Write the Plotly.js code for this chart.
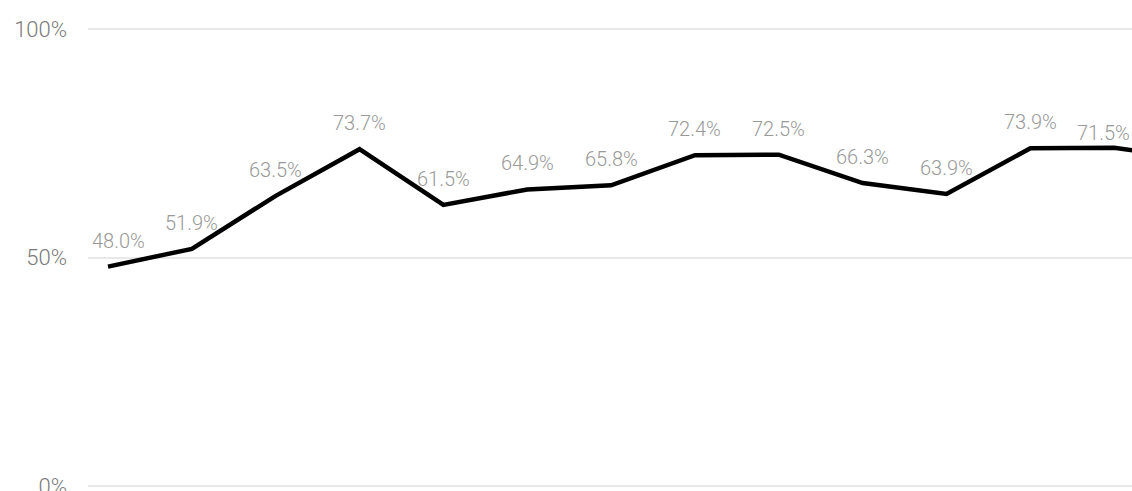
<!DOCTYPE html>
<html>
<head>
<meta charset="utf-8">
<script src="https://cdn.plot.ly/plotly-3.0.1.min.js"></script>
<style>
  html, body { margin: 0; padding: 0; background: #ffffff; }
  #chart { width: 1132px; height: 491px; }
</style>
</head>
<body>
<div id="chart"></div>
<script>
// Data (x positions are category indices; the 14th point lies just beyond the visible area)
const categories = [1, 2, 3, 4, 5, 6, 7, 8, 9, 10, 11, 12, 13, 14];
const values = [48.0, 51.9, 63.5, 73.7, 61.5, 64.9, 65.8, 72.4, 72.5, 66.3, 63.9, 73.9, 74.0, 71.5];
const labels = ['48.0%', '51.9%', '63.5%', '73.7%', '61.5%', '64.9%', '65.8%', '72.4%', '72.5%', '66.3%', '63.9%', '73.9%', '', '71.5%'];
const yTickVals = [0, 0.5, 1];
const yTickText = ['0%', '50%', '100%'];

const xIdx = categories.map((c, i) => i);
const yFrac = values.map(v => v / 100);

const trace = {
  type: 'scatter',
  mode: 'lines',
  x: xIdx,
  y: yFrac,
  line: { color: '#000000', width: 4.5 },
  hoverinfo: 'skip',
  showlegend: false
};

const labelFont = { family: 'Roboto, sans-serif', size: 20, weight: 300, color: '#999999' };
const lastVisible = 12;
const annotations = [];
labels.forEach((t, i) => {
  if (!t) return;
  let xs = 0;
  let xi = i;
  if (i === 0) xs = 10;
  if (i > lastVisible) { xi = lastVisible; xs = -11; }
  annotations.push({
    x: xi, y: yFrac[i], xref: 'x', yref: 'y',
    text: t, showarrow: false,
    xanchor: 'center', yanchor: 'bottom',
    xshift: xs, yshift: 12,
    font: labelFont
  });
});

const layout = {
  width: 1132, height: 491,
  margin: { l: 88, r: 0, t: 27, b: 0, pad: 0 },
  paper_bgcolor: '#ffffff', plot_bgcolor: '#ffffff',
  showlegend: false,
  xaxis: {
    range: [-0.2385, 12.212],
    showgrid: false, zeroline: false, showline: false,
    showticklabels: false, ticks: ''
  },
  yaxis: {
    range: [-0.0109, 1.0044],
    tickvals: yTickVals, ticktext: yTickText,
    showgrid: true, gridcolor: '#e8e8e8', gridwidth: 2,
    zeroline: false, showline: false, ticks: '',
    ticklabelstandoff: 20,
    ticklabeloverflow: 'allow',
    tickfont: { family: 'Roboto, sans-serif', size: 22, weight: 300, color: '#7a7a7a' }
  },
  annotations: annotations
};

Plotly.newPlot('chart', [trace], layout, { staticPlot: true, displayModeBar: false });
</script>
</body>
</html>
